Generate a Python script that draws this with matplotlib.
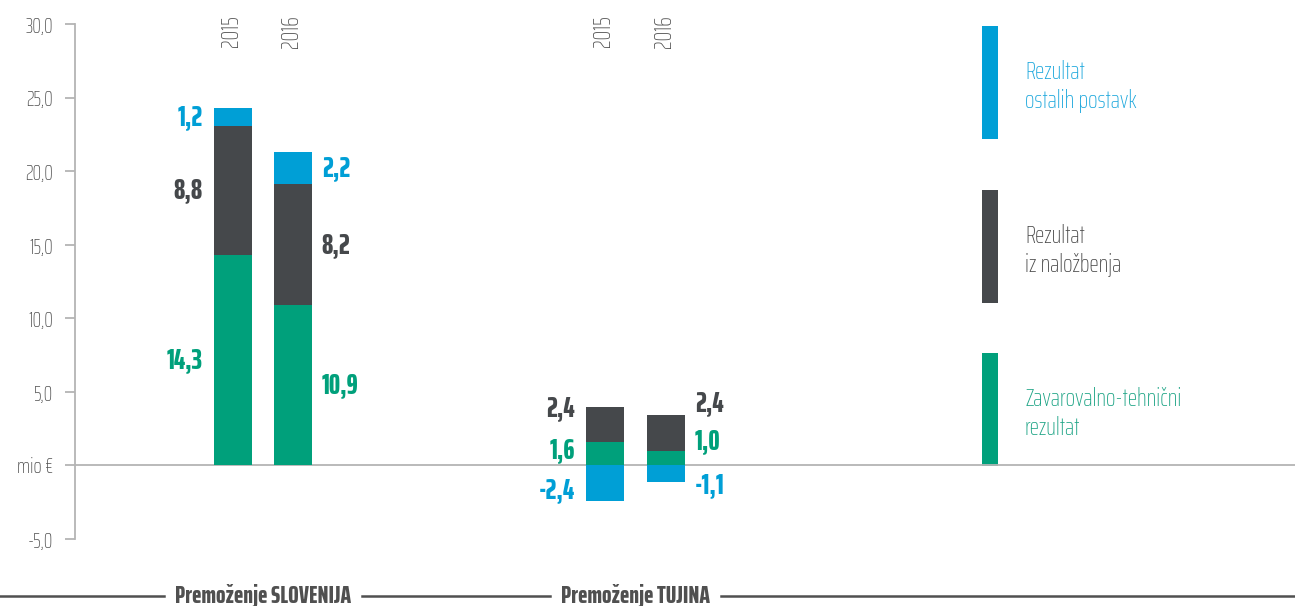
import matplotlib
matplotlib.use("Agg")
import matplotlib.pyplot as plt
from matplotlib.lines import Line2D
from matplotlib.patches import Rectangle

# ---------------- data ----------------
groups = ["Premoženje SLOVENIJA", "Premoženje TUJINA"]
years = ["2015", "2016", "2015", "2016"]
zav_teh = [14.3, 10.9, 1.6, 1.0]          # Zavarovalno-tehnični rezultat
nalozbe = [8.8, 8.2, 2.4, 2.4]            # Rezultat iz naložbenja
ostalo = [1.2, 2.2, -2.4, -1.1]           # Rezultat ostalih postavk
ytick_vals = [-5, 0, 5, 10, 15, 20, 25, 30]
ytick_labels = ["-5,0", "mio €", "5,0", "10,0", "15,0", "20,0", "25,0", "30,0"]
legend_labels = ["Rezultat\nostalih postavk", "Rezultat\niz naložbenja", "Zavarovalno-tehnični\nrezultat"]

# ---------------- style ----------------
FONT = ["Saira ExtraCondensed", "Saira Condensed", "DejaVu Sans"]
GREEN = "#00a07b"
DARK = "#45484b"
BLUE = "#009fd6"
AXC = "#b4b4b4"
TXT = "#505050"

x_pos = [233, 293, 605, 666]
bar_w = 38
# label anchors for the foreign group (manually placed in reference)
tuj_label_y = [[1.05, 3.9, -1.69], [1.66, 4.24, -1.33]]

fig = plt.figure(figsize=(12.95, 6.06), dpi=100)
ax = fig.add_axes([75 / 1295, 67 / 606, 1220 / 1295, 515 / 606])
ax.set_xlim(75, 1295)
ax.set_ylim(-5, 30)

# stacked bars
ax.bar(x_pos, zav_teh, width=bar_w, color=GREEN, zorder=3)
ax.bar(x_pos, nalozbe, bottom=zav_teh, width=bar_w, color=DARK, zorder=3)
b_bottom = [z + n if o > 0 else 0 for z, n, o in zip(zav_teh, nalozbe, ostalo)]
ax.bar(x_pos, ostalo, bottom=b_bottom, width=bar_w, color=BLUE, zorder=3)

# zero line
ax.axhline(0, color=AXC, lw=1.3, zorder=2)

# axes styling
for s in ["top", "right", "bottom"]:
    ax.spines[s].set_visible(False)
ax.spines["left"].set_color(AXC)
ax.spines["left"].set_linewidth(1.3)
ax.set_xticks([])
ax.set_yticks(ytick_vals)
ax.set_yticklabels(ytick_labels)
ax.tick_params(axis="y", length=7, width=1.3, color=AXC, pad=9,
               labelsize=15.5, labelcolor=TXT)
for lab in ax.get_yticklabels():
    lab.set_family(FONT)
    lab.set_fontweight("light")

# year labels
for x, yr in zip(x_pos, years):
    ax.text(x - 2, 1.0175, yr, transform=ax.get_xaxis_transform(), rotation=90,
            ha="center", va="top", fontsize=17.5, color=TXT, family=FONT,
            fontweight="light")

# value labels
def fmt(v):
    return f"{v:.1f}".replace(".", ",")

for i, x in enumerate(x_pos):
    segs = [(zav_teh[i], GREEN), (nalozbe[i], DARK), (ostalo[i], BLUE)]
    left_side = (i % 2 == 0)
    if i < 2:
        ys = [zav_teh[i] / 2, zav_teh[i] + nalozbe[i] / 2,
              zav_teh[i] + nalozbe[i] + ostalo[i] / 2]
    else:
        ys = tuj_label_y[i - 2]
    for (v, c), y in zip(segs, ys):
        if left_side:
            ax.annotate(fmt(v), (x - bar_w / 2, y), xytext=(-8, 0),
                        textcoords="offset points", ha="right", va="center",
                        fontsize=20.5, fontweight=800, color=c, family=FONT)
        else:
            ax.annotate(fmt(v), (x + bar_w / 2, y), xytext=(7, 0),
                        textcoords="offset points", ha="left", va="center",
                        fontsize=20.5, fontweight=800, color=c, family=FONT)

# legend (vertical colour bars with text)
leg_cols = [BLUE, DARK, GREEN]
leg_txt_cols = ["#1ba7dc", "#4a4a4a", "#1ba384"]
leg_spans = [(0.777, 0.996), (0.458, 0.678), (0.142, 0.361)]
for (y0, y1), c, tc, lab in zip(leg_spans, leg_cols, leg_txt_cols, legend_labels):
    ax.add_patch(Rectangle((982, y0), 16, y1 - y0, color=c, lw=0,
                           transform=ax.get_xaxis_transform(), clip_on=False))
    ax.text(1025, (y0 + y1) / 2 - 0.008, lab, transform=ax.get_xaxis_transform(),
            ha="left", va="center", fontsize=18, color=tc, family=FONT,
            fontweight="light", linespacing=1.3)

# bottom group labels with rules
fig.canvas.draw()
renderer = fig.canvas.get_renderer()
y_line = 1 - 596 / 606
centers = [(x_pos[0] + x_pos[1]) / 2, (x_pos[2] + x_pos[3]) / 2]
edges = [0]
for g, cx in zip(groups, centers):
    xf = ax.transData.transform((cx, 0))[0] / fig.bbox.width
    t = fig.text(xf, y_line, g, ha="center", va="center", fontsize=18,
                 fontweight=800, color=TXT, family=FONT)
    bb = t.get_window_extent(renderer)
    edges.append(bb.x0 - 11)
    edges.append(bb.x1 + 11)
edges.append(fig.bbox.width)
for a, b in zip(edges[0::2], edges[1::2]):
    fig.add_artist(Line2D([a / fig.bbox.width, b / fig.bbox.width], [y_line, y_line],
                          color=TXT, lw=1.8, transform=fig.transFigure))

fig.savefig("out.png", dpi=100)
